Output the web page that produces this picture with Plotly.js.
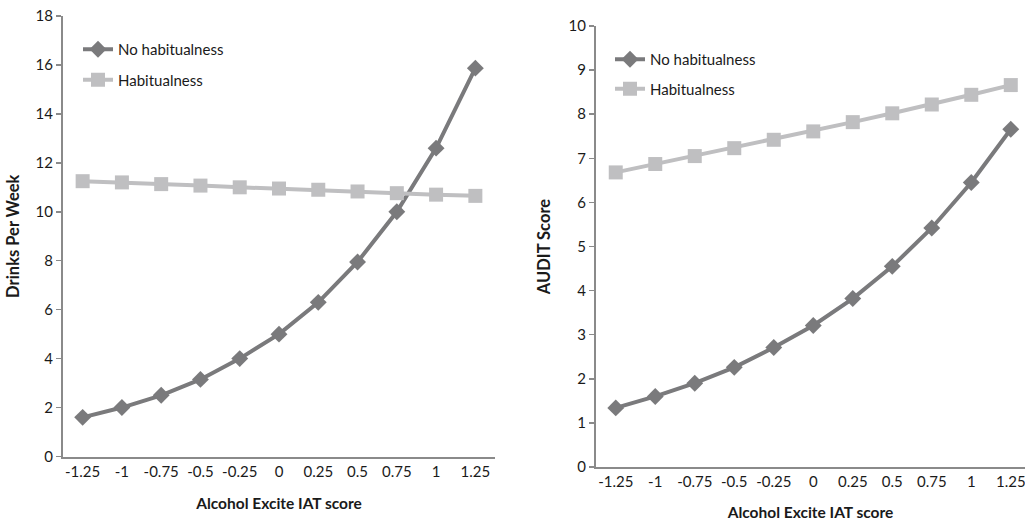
<!DOCTYPE html>
<html>
<head>
<meta charset="utf-8">
<script src="https://cdn.plot.ly/plotly-3.0.1.min.js"></script>
<style>html,body{margin:0;padding:0;background:#fff;overflow:hidden}#chart{width:1025px;height:521px}</style>
</head>
<body>
<div id="chart"></div>
<script>
const iatScores = [-1.25, -1, -0.75, -0.5, -0.25, 0, 0.25, 0.5, 0.75, 1, 1.25];
const tickLabels = ["-1.25", "-1", "-0.75", "-0.5", "-0.25", "0", "0.25", "0.5", "0.75", "1", "1.25"];
const drinksNoHabit = [1.6, 2.0, 2.5, 3.15, 4.0, 5.0, 6.3, 7.95, 10.0, 12.6, 15.87];
const drinksHabit = [11.25, 11.2, 11.13, 11.07, 11.0, 10.95, 10.9, 10.83, 10.76, 10.7, 10.65];
const auditNoHabit = [1.34, 1.6, 1.9, 2.26, 2.71, 3.21, 3.82, 4.55, 5.42, 6.45, 7.66];
const auditHabit = [6.68, 6.87, 7.05, 7.23, 7.42, 7.61, 7.82, 8.02, 8.22, 8.44, 8.66];

const dark = "#7a7a7c";
const light = "#bfbfc1";
const font = "Lato, 'Open Sans', sans-serif";

function tr(y, name, color, symbol, size, xa, ya, legend, group) {
  return {
    x: iatScores, y: y, name: name, type: "scatter", mode: "lines+markers",
    line: {color: color, width: 4},
    marker: {color: color, symbol: symbol, size: size},
    xaxis: xa, yaxis: ya, legend: legend, legendgroup: group, cliponaxis: false
  };
}

const data = [
  tr(drinksNoHabit, "No habitualness", dark, "diamond", 13, "x", "y", "legend", "a"),
  tr(drinksHabit, "Habitualness", light, "square", 14, "x", "y", "legend", "b"),
  tr(auditNoHabit, "No habitualness", dark, "diamond", 13, "x2", "y2", "legend2", "c"),
  tr(auditHabit, "Habitualness", light, "square", 14, "x2", "y2", "legend2", "d")
];

const axisLine = {showline: true, linecolor: "#8a8a8a", linewidth: 2, showgrid: false, zeroline: false,
  tickfont: {family: font, size: 15, color: "#1a1a1a"}};

const xCommon = Object.assign({}, axisLine, {
  tickmode: "array", tickvals: iatScores, ticktext: tickLabels, ticks: "", ticklen: 0,
  ticklabeloverflow: "allow",
  title: {text: "<b>Alcohol Excite IAT score</b>", font: {family: font, size: 15.5, color: "#1a1a1a"}, standoff: 20}
});

const layout = {
  width: 1025, height: 521,
  margin: {l: 0, r: 0, t: 0, b: 0},
  paper_bgcolor: "#fff", plot_bgcolor: "#fff",
  showlegend: true,
  xaxis: Object.assign({}, xCommon, {domain: [63/1025, 495/1025], range: [-1.375, 1.375], anchor: "y"}),
  xaxis2: Object.assign({}, xCommon, {domain: [596/1025, 1], range: [-1.375, 1.34], anchor: "y2"}),
  yaxis: Object.assign({}, axisLine, {domain: [64.5/521, 505/521], range: [0, 18], dtick: 2,
    ticks: "outside", ticklen: 5, tickcolor: "#8a8a8a", tickwidth: 1.5, anchor: "x",
    title: {text: "<b>Drinks Per Week</b>", font: {family: font, size: 16.5, color: "#1a1a1a"}, standoff: 12}}),
  yaxis2: Object.assign({}, axisLine, {domain: [54/521, 495/521], range: [0, 10], dtick: 1,
    ticks: "outside", ticklen: 5, tickcolor: "#8a8a8a", tickwidth: 1.5, anchor: "x2",
    title: {text: "<b>AUDIT Score</b>", font: {family: font, size: 16.5, color: "#1a1a1a"}, standoff: 14}}),
  legend: {x: 78/1025, y: 1 - 33/521, xanchor: "left", yanchor: "top", bgcolor: "rgba(0,0,0,0)",
    font: {family: font, size: 15, color: "#1a1a1a"}, tracegroupgap: 8, traceorder: "grouped"},
  legend2: {x: 610/1025, y: 1 - 43/521, xanchor: "left", yanchor: "top", bgcolor: "rgba(0,0,0,0)",
    font: {family: font, size: 15, color: "#1a1a1a"}, tracegroupgap: 7, traceorder: "grouped"}
};

Plotly.newPlot("chart", data, layout, {displayModeBar: false, staticPlot: true});
</script>
</body>
</html>
